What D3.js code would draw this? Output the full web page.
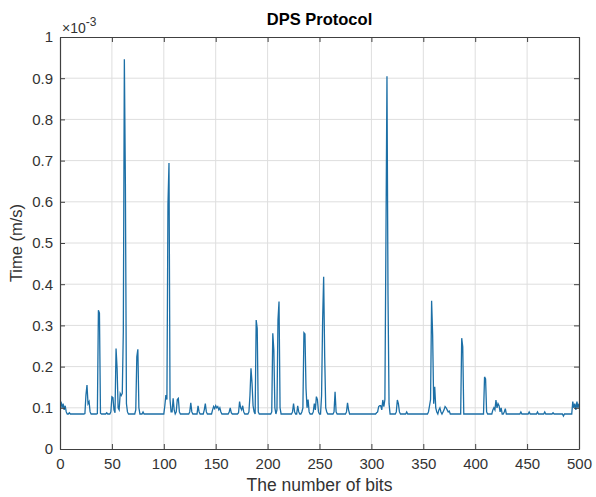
<!DOCTYPE html>
<html>
<head>
<meta charset="utf-8">
<script src="https://cdn.jsdelivr.net/npm/d3@7"></script>
<style>
  body { margin: 0; background: #fff; }
  svg text { font-family: "Liberation Sans", Arial, Helvetica, sans-serif; fill: #262626; }
</style>
</head>
<body>
<div id="chart"></div>
<script>
// time per step, in units of 1e-5 s, steps 1..500
const timeVals = [
  11.5, 10, 11, 9.5, 10.5, 9, 8.5, 8.5, 8.8, 8.5,
  8.5, 8.5, 8.5, 8.5, 8.5, 8.5, 8.5, 8.5, 8.5, 8.5,
  8.5, 8.5, 8.5, 8.6, 13.1, 15.5, 11, 11.5, 9, 8.5,
  8.5, 8.5, 8.5, 8.5, 8.5, 8.6, 33.7, 33, 8.7, 8.5,
  8.5, 8.5, 8.5, 8.5, 8.8, 8.5, 8.5, 8.5, 9, 12.7,
  12.5, 9.5, 8.8, 24.4, 19.6, 10, 9.5, 13.5, 13, 13.5,
  28.5, 94.6, 64.3, 11, 9, 8.5, 8.5, 8.5, 8.5, 8.5,
  8.5, 8.5, 9.5, 22.4, 24.2, 10, 8.5, 8.5, 8.5, 9,
  8.5, 8.5, 8.5, 8.5, 8.5, 8.5, 8.5, 8.5, 8.5, 8.5,
  8.5, 8.5, 8.5, 8.5, 8.5, 8.5, 8.5, 8.5, 8.5, 8.5,
  10.5, 13.1, 12, 59.2, 69.4, 12, 9, 9, 12.3, 9.5,
  8.5, 9, 12, 12.3, 9, 8.5, 8.5, 8.5, 8.5, 8.5,
  8.5, 8.5, 8.5, 8.5, 9, 11.2, 9, 8.5, 8.5, 8.5,
  8.5, 8.5, 10.5, 9, 8.5, 8.5, 8.5, 8.5, 9.5, 11,
  9, 8.5, 8.5, 8.5, 8.5, 8.5, 9.5, 10.3, 9.8, 10.5,
  10, 10.3, 9.5, 10, 9, 8.5, 8.5, 8.5, 8.5, 8.5,
  8.5, 8.5, 9, 10, 8.8, 8.5, 8.5, 8.5, 8.5, 8.5,
  8.5, 8.8, 11.5, 10, 9.5, 10.5, 9, 8.5, 8.5, 8.5,
  8.5, 9, 13, 19.6, 16, 10.5, 9, 8.5, 31.3, 29.3,
  9, 8.5, 8.5, 8.5, 8.5, 8.5, 8.5, 8.5, 8.5, 8.5,
  8.5, 8.5, 8.5, 9, 28.1, 24, 10, 8.5, 9.5, 31.3,
  35.8, 10, 8.5, 8.5, 8.5, 8.5, 8.5, 8.5, 8.5, 8.5,
  8.5, 8.5, 8.5, 9, 11, 9, 8.5, 8.5, 10.5, 9,
  8.5, 8.5, 9, 10, 28.2, 27.9, 14.7, 10, 12, 9,
  8.5, 8.5, 8.5, 9, 11, 9.5, 12.7, 12, 9, 8.5,
  8.5, 13, 31, 41.8, 22.4, 10, 9, 8.5, 8.5, 8.5,
  8.5, 8.5, 8.5, 9, 13.9, 9, 8.5, 8.5, 8.5, 8.5,
  8.5, 8.5, 8.5, 8.5, 8.5, 9, 11.2, 9.5, 8.5, 8.5,
  8.5, 8.5, 8.5, 8.5, 8.5, 8.5, 8.5, 8.5, 8.5, 8.5,
  8.5, 8.5, 8.5, 8.5, 8.5, 8.5, 8.5, 8.5, 8.5, 8.5,
  8.5, 8.5, 8.5, 8.5, 8.8, 9, 10.3, 10.5, 10.5, 9.5,
  11.9, 10.3, 12, 50.5, 90.5, 37.4, 11, 8.5, 8.5, 8.5,
  8.5, 8.5, 8.5, 9, 11.9, 11, 9, 8.5, 8.5, 8.5,
  8.5, 8.5, 8.5, 9, 8.5, 8.5, 8.5, 8.5, 8.5, 8.5,
  8.5, 8.5, 8.5, 8.5, 8.5, 8.5, 8.5, 8.5, 8.5, 8.5,
  8.5, 8.5, 8.5, 8.5, 9, 10.5, 12, 36, 27.7, 11,
  15.1, 10, 9, 8.5, 9.5, 10, 9, 8.5, 9, 9.5,
  10.3, 10, 9.5, 9, 9.2, 8.5, 8.5, 8.5, 8.5, 8.5,
  8.5, 8.5, 8.5, 8.5, 8.5, 8.5, 26.9, 24.8, 8.5, 8.5,
  8.5, 8.5, 8.5, 8.5, 8.5, 8.5, 8.5, 8.5, 8.5, 8.5,
  8.5, 8.5, 8.5, 8.5, 8.5, 8.5, 8.5, 8.5, 17.5, 17,
  9, 8.5, 8.5, 8.5, 8.5, 8.5, 9.5, 10, 9.5, 11.9,
  10, 11, 10.5, 9, 10, 8.5, 8.5, 9, 9.8, 8.5,
  8.5, 8.5, 8.5, 8.5, 8.5, 8.5, 8.5, 8.5, 8.5, 8.5,
  8.5, 8.5, 8.5, 9, 8.5, 8.5, 8.5, 8.5, 8.5, 8.5,
  8.5, 9, 8.5, 8.5, 8.5, 8.5, 8.5, 8.5, 8.5, 9,
  8.5, 8.5, 8.5, 8.5, 8.5, 8.5, 9, 8.5, 8.5, 8.5,
  8.5, 8.5, 8.5, 8.5, 8.8, 8.5, 8.5, 8.5, 8.5, 8.5,
  8.5, 8.5, 8.5, 8.5, 8, 8.5, 8.5, 8.5, 8.5, 8.5,
  8.5, 8.5, 8.5, 11.5, 10, 11, 9.5, 11.5, 10, 11
];
const xTicks = [0, 50, 100, 150, 200, 250, 300, 350, 400, 450, 500];
const yTicks = [0, 0.1, 0.2, 0.3, 0.4, 0.5, 0.6, 0.7, 0.8, 0.9, 1];   // x 1e-3

const W = 596, H = 497;
const m = { left: 60, right: 17, top: 37, bottom: 48 };
const iw = W - m.left - m.right, ih = H - m.top - m.bottom;

const svg = d3.select('#chart').append('svg').attr('width', W).attr('height', H);
const g = svg.append('g').attr('transform', `translate(${m.left},${m.top})`);

const x = d3.scaleLinear().domain([0, 500]).range([0, iw]);
const y = d3.scaleLinear().domain([0, 1]).range([ih, 0]);

// grid
g.append('g').selectAll('line').data(xTicks.slice(1, -1)).enter().append('line')
  .attr('x1', d => x(d)).attr('x2', d => x(d)).attr('y1', 0).attr('y2', ih)
  .attr('stroke', '#dedede').attr('stroke-width', 1);
g.append('g').selectAll('line').data(yTicks.slice(1, -1)).enter().append('line')
  .attr('y1', d => y(d)).attr('y2', d => y(d)).attr('x1', 0).attr('x2', iw)
  .attr('stroke', '#dedede').attr('stroke-width', 1);

// the series
const data = timeVals.map((v, i) => ({ n: i + 1, t: v / 100 }));
const line = d3.line().x(d => x(d.n)).y(d => y(d.t));
g.append('path').datum(data)
  .attr('fill', 'none').attr('stroke', '#1c6fa6').attr('stroke-width', 1.3)
  .attr('stroke-linejoin', 'miter').attr('d', line);

// axes, MATLAB style: ticks inside on all four sides
const fmtY = d => d3.format('.1f')(d).replace(/\.0$/, '');
const ax = g.append('g').attr('transform', `translate(0,${ih})`)
  .call(d3.axisBottom(x).tickValues(xTicks).tickSizeInner(-5).tickSizeOuter(0).tickPadding(9));
const ay = g.append('g')
  .call(d3.axisLeft(y).tickValues(yTicks).tickFormat(fmtY).tickSizeInner(-5).tickSizeOuter(0).tickPadding(7));
const axT = g.append('g')
  .call(d3.axisTop(x).tickValues(xTicks).tickFormat('').tickSizeInner(-5).tickSizeOuter(0));
const ayR = g.append('g').attr('transform', `translate(${iw},0)`)
  .call(d3.axisRight(y).tickValues(yTicks).tickFormat('').tickSizeInner(-5).tickSizeOuter(0));

[ax, ay, axT, ayR].forEach(a => {
  a.select('.domain').attr('stroke', '#404040').attr('stroke-width', 1.2);
  a.selectAll('.tick line').attr('stroke', '#404040');
  a.selectAll('.tick text').attr('font-size', 15).style('fill', '#333');
});

// exponent label
const ex = svg.append('text').attr('x', m.left + 2).attr('y', m.top - 4).attr('font-size', 14).style('fill', '#333');
ex.append('tspan').text('\u00d710');
ex.append('tspan').attr('dy', -7).attr('font-size', 12).text('-3');

// title and axis labels
svg.append('text').attr('x', m.left + iw / 2).attr('y', 25)
  .attr('text-anchor', 'middle').attr('font-size', 16.5).attr('font-weight', 'bold')
  .style('fill', '#000').text('DPS Protocol');
svg.append('text').attr('x', m.left + iw / 2).attr('y', 491)
  .attr('text-anchor', 'middle').attr('font-size', 17.5).style('fill', '#333').text('The number of bits');
svg.append('text').attr('transform', `translate(22,${m.top + ih / 2}) rotate(-90)`)
  .attr('text-anchor', 'middle').attr('font-size', 16.5).style('fill', '#333').text('Time (m/s)');
</script>
</body>
</html>
